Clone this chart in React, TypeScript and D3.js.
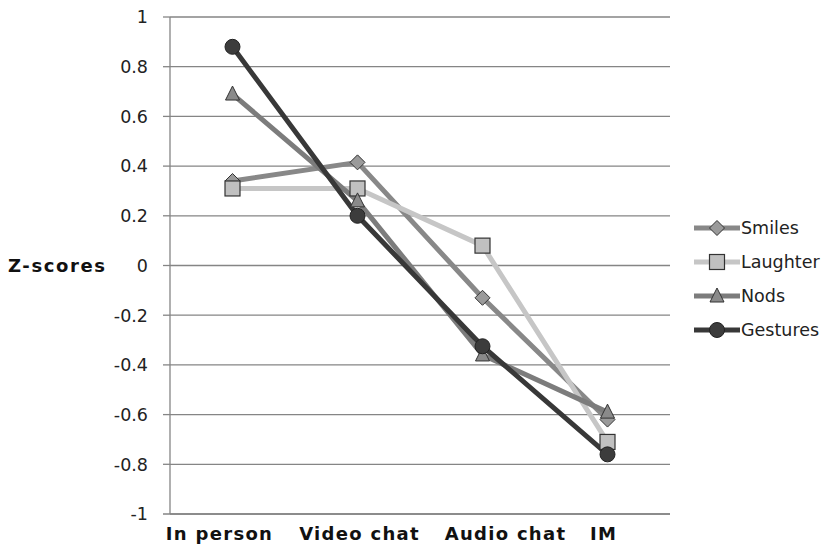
import React from "react";
import * as d3 from "d3";

const categories = ["In person", "Video chat", "Audio chat", "IM"];
const seriesNames = ["Smiles", "Laughter", "Nods", "Gestures"];
const smiles = [0.34, 0.415, -0.13, -0.62];
const laughter = [0.31, 0.31, 0.08, -0.71];
const nods = [0.69, 0.26, -0.36, -0.59];
const gestures = [0.88, 0.2, -0.325, -0.76];
const yTicks = [1, 0.8, 0.6, 0.4, 0.2, 0, -0.2, -0.4, -0.6, -0.8, -1];

const seriesValues = [smiles, laughter, nods, gestures];
const lineColors = ["#888888", "#c6c6c6", "#7c7c7c", "#383838"];
const markerFills = ["#9a9a9a", "#c0c0c0", "#8a8a8a", "#3c3c3c"];
const markerTypes = ["diamond", "square", "triangle", "circle"];
const labelDx = [-13, 2, 23, -4];

function Marker({ type, x, y, fill }: { type: string; x: number; y: number; fill: string }) {
  const stroke = "#333";
  if (type === "circle") return <circle cx={x} cy={y} r={7.5} fill={fill} stroke="#222" strokeWidth={1} />;
  if (type === "square") return <rect x={x - 7.5} y={y - 7.5} width={15} height={15} fill={fill} stroke={stroke} strokeWidth={1.2} />;
  if (type === "diamond") return <path d={`M${x},${y - 7.5}L${x + 7.5},${y}L${x},${y + 7.5}L${x - 7.5},${y}Z`} fill={fill} stroke={stroke} strokeWidth={1} />;
  return <path d={`M${x},${y - 8}L${x + 7},${y + 6}L${x - 7},${y + 6}Z`} fill={fill} stroke={stroke} strokeWidth={1} />;
}

export default function App() {
  const W = 824, H = 545;
  const left = 170, right = 670, top = 17, bottom = 514;
  const x = d3.scaleBand<string>().domain(categories).range([left, right]);
  const y = d3.scaleLinear().domain([-1, 1]).range([bottom, top]);
  const cx = (c: string) => (x(c) as number) + x.bandwidth() / 2;
  const line = d3.line<number>().x((_, i) => cx(categories[i])).y((d) => y(d));
  const font = "'DejaVu Sans', Verdana, sans-serif";
  return (
    <svg width={W} height={H} style={{ position: "absolute", left: 0, top: 0, background: "#fff" }} fontFamily={font}>
      {yTicks.map((t) => (
        <g key={t}>
          <line x1={left - 7} x2={t === -1 ? right : left} y1={y(t)} y2={y(t)} stroke="#858585" strokeWidth={1.3} />
          {t !== -1 && <line x1={left} x2={right} y1={y(t)} y2={y(t)} stroke="#858585" strokeWidth={1.3} />}
          <text x={left - 22} y={y(t)} dy="0.36em" textAnchor="end" fontSize={17.5} fill="#222">{t}</text>
        </g>
      ))}
      <line x1={left} x2={left} y1={top} y2={bottom} stroke="#858585" strokeWidth={1.3} />
      <line x1={left} x2={right} y1={bottom} y2={bottom} stroke="#858585" strokeWidth={1.3} />
      {categories.map((c, i) => (
        <text key={c} x={cx(c) + labelDx[i]} y={540} textAnchor="middle" fontSize={18} fontWeight="bold" letterSpacing={1.3} fill="#111">{c}</text>
      ))}
      <text x={8} y={y(0)} dy="0.36em" fontSize={18} fontWeight="bold" letterSpacing={1.6} fill="#111">Z-scores</text>
      {seriesValues.map((vals, si) => (
        <path key={si} d={line(vals) || ""} fill="none" stroke={lineColors[si]} strokeWidth={5} strokeLinejoin="round" />
      ))}
      {seriesValues.map((vals, si) => (
        <g key={si}>
          {vals.map((v, i) => (
            <Marker key={i} type={markerTypes[si]} x={cx(categories[i])} y={y(v)} fill={markerFills[si]} />
          ))}
        </g>
      ))}
      {seriesNames.map((n, si) => {
        const ly = 228 + si * 34;
        return (
          <g key={n}>
            <line x1={694} x2={740} y1={ly} y2={ly} stroke={lineColors[si]} strokeWidth={5} />
            <Marker type={markerTypes[si]} x={717} y={ly} fill={markerFills[si]} />
            <text x={741} y={ly} dy="0.36em" fontSize={17.5} fill="#222">{n}</text>
          </g>
        );
      })}
    </svg>
  );
}
